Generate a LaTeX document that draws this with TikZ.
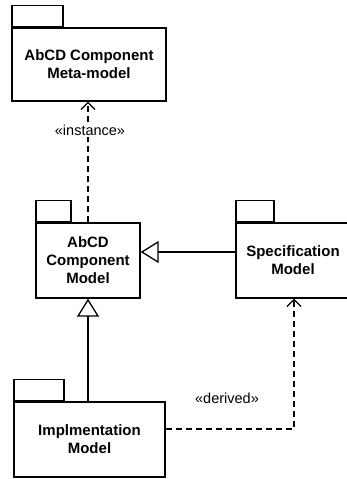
\documentclass[tikz,border=0pt]{standalone}
\usepackage{fontspec}
\setmainfont{Liberation Sans}
\usetikzlibrary{arrows.meta}
\begin{document}
\begin{tikzpicture}[x=1pt,y=-1pt, line width=1.3pt,
  pkg/.style={draw, rectangle, inner sep=0pt, align=center,
    font=\bfseries\fontsize{15}{18}\selectfont},
  pkgtab/.style={draw, rectangle, inner sep=0pt, anchor=south west, minimum height=21pt},
  gen/.style={-{Triangle[open,length=18pt,width=22pt,line width=1.3pt]}},
  dep/.style={dash pattern=on 6pt off 4pt, -{Straight Barb[length=7pt,width=14pt,line width=1.3pt]}},
  stereo/.style={font=\fontsize{14.5}{17}\selectfont, inner sep=2pt}]
\useasboundingbox (0,0) rectangle (346,479);

% packages
\node[pkg, minimum width=154pt, minimum height=73pt] (meta) at (89,64.5) {AbCD Component\\Meta-model};
\node[pkgtab, minimum width=51pt] (metatab) at (meta.north west) {};

\node[pkg, minimum width=104pt, minimum height=75pt] (abcd) at (88,260.5) {AbCD\\Component\\Model};
\node[pkgtab, minimum width=35pt] (abcdtab) at (abcd.north west) {};

\node[pkg, minimum width=114pt, minimum height=75pt] (spec) at (293,260.5) {Specification\\Model};
\node[pkgtab, minimum width=38pt] (spectab) at (spec.north west) {};

\node[pkg, minimum width=151pt, minimum height=75pt] (impl) at (89.5,439.5) {Implmentation\\Model};
\node[pkgtab, minimum width=50pt] (impltab) at (impl.north west) {};

% instance dependency
\draw[dep] (abcd.north) -- (abcd.north |- meta.south);
\node[stereo, fill=white] (inst) at (90,130) {«instance»};

% generalizations
\draw[gen] ([yshift=8.5pt]spec.west) -- ([yshift=8.5pt]abcd.east);
\draw[gen] (abcd.south |- impl.north) -- (abcd.south);

% derived dependency
\draw[dep] ([yshift=10.5pt]impl.east) -| ([xshift=1pt]spec.south);
\node[stereo] (der) at (227,398) {«derived»};
\end{tikzpicture}
\end{document}
